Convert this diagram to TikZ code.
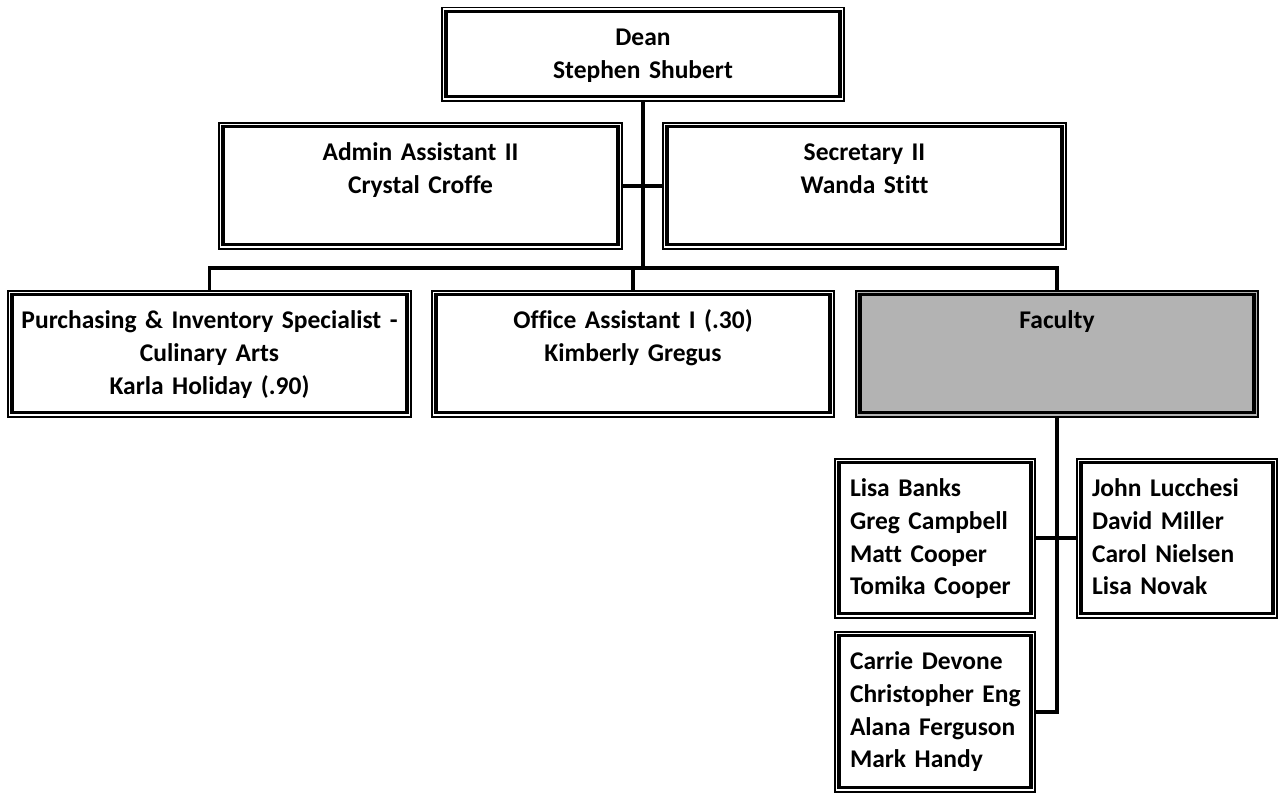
\documentclass[tikz,border=0pt]{standalone}
\usepackage{fontspec}
\setmainfont{Carlito}[Ligatures=NoCommon]
\usepackage{tikz}
\definecolor{ocfac}{HTML}{B3B3B3}
\newcommand{\orgfont}{\fontsize{25.5}{32.7}\selectfont\bfseries}
\tikzset{
  orgbox/.style={draw,line width=1.5pt,fill=white,anchor=north,inner xsep=6pt,inner ysep=0pt,
    align=center,font=\orgfont,text height=38pt,text depth=88pt,text width=391pt},
  namebox/.style={orgbox,align=left,inner xsep=15pt,text width=170pt,text depth=121pt},
  orgline/.style={line width=3.6pt}
}
\begin{document}
\begin{tikzpicture}[x=1pt,y=-1pt]
  \useasboundingbox (0,0) rectangle (1281,792);
  \node[orgbox,text width=390pt,text depth=55pt] (dean) at (643,7) {Dean\\Stephen Shubert};
  \node[orgbox] (admin) at (420.5,122) {Admin Assistant II\\Crystal Croffe};
  \node[orgbox] (secy) at (864.5,122) {Secretary II\\Wanda Stitt};
  \node[orgbox] (purch) at (209.5,290) {Purchasing \& Inventory Specialist -\\Culinary Arts\\Karla Holiday (.90)};
  \node[orgbox,text width=390pt] (office) at (633,290) {Office Assistant I (.30)\\Kimberly Gregus};
  \node[orgbox,text width=390pt,fill=ocfac] (faculty) at (1057,290) {Faculty};
  \node[namebox] (fac1) at (935,458) {Lisa Banks\\Greg Campbell\\Matt Cooper\\Tomika Cooper};
  \node[namebox] (fac2) at (1177,458) {John Lucchesi\\David Miller\\Carol Nielsen\\Lisa Novak};
  \node[namebox,text depth=122pt] (fac3) at (935,631) {Carrie Devone\\Christopher~Eng\\Alana Ferguson\\Mark Handy};
  \foreach \n in {dean,admin,secy,purch,office,faculty,fac1,fac2,fac3}
    \draw[line width=3.2pt] ([shift={(4.8pt,4.8pt)}]\n.south west) rectangle ([shift={(-4.8pt,-4.8pt)}]\n.north east);
  \coordinate (hub) at (643,268);
  \draw[orgline] (dean.south) -- (hub);
  \draw[orgline] (admin.east) -- (secy.west);
  \draw[orgline] (purch.north) |- (hub) -| (faculty.north);
  \draw[orgline] (office.north) |- (hub);
  \draw[orgline] (faculty.south) |- (fac3.east);
  \draw[orgline] (fac1.east) -- (fac2.west);
\end{tikzpicture}
\end{document}
